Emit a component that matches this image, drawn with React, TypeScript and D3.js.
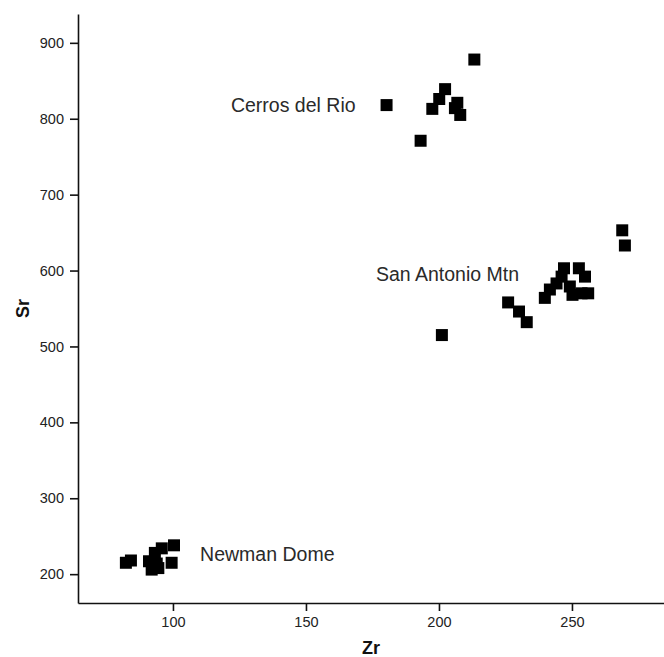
import * as d3 from "d3";
import { useEffect, useRef } from "react";

// Zr / Sr values
const cerrosZr = [180.3, 213.3, 193.1, 202.3, 200.1, 197.5, 206.9, 206.0, 208.0];
const cerrosSr = [818, 878, 771, 839, 826, 813, 821, 814, 805];

const sanAntonioZr = [268.9, 269.9, 201.1, 226.0, 230.1, 233.0, 239.8, 241.7, 244.2, 246.1, 247.0, 249.2, 250.2, 252.6, 254.9, 253.6, 256.1];
const sanAntonioSr = [653, 633, 515, 558, 546, 532, 564, 575, 583, 592, 603, 579, 568, 603, 592, 570, 570];

const newmanZr = [82.3, 84.2, 91.0, 92.0, 93.9, 93.2, 95.8, 100.4, 99.5, 94.5];
const newmanSr = [215, 218, 217, 206, 214, 228, 234, 238, 215, 208];

const groupNames = ["Cerros del Rio", "San Antonio Mtn", "Newman Dome"];
// label anchor in data units (Zr, Sr)
const labelZr = [121.8, 176.3, 110.2];
const labelSr = [809, 586, 217];

const xTicks = [100, 150, 200, 250];
const yTicks = [200, 300, 400, 500, 600, 700, 800, 900];

function App() {
  const ref = useRef<SVGSVGElement>(null);

  useEffect(() => {
    const width = 664;
    const height = 657;
    const margin = { top: 14, right: 0, bottom: 54, left: 78 };

    const svg = d3.select(ref.current);
    svg.selectAll("*").remove();
    svg.attr("width", width).attr("height", height);

    const x = d3.scaleLinear().domain([64.3, 284.6]).range([margin.left, width - margin.right]);
    const y = d3.scaleLinear().domain([162, 938]).range([height - margin.bottom, margin.top]);

    const font = "'Liberation Sans', Arial, sans-serif";

    const xAxis = svg
      .append("g")
      .attr("transform", `translate(0,${height - margin.bottom})`)
      .call(d3.axisBottom(x).tickValues(xTicks).tickSize(8).tickPadding(6).tickSizeOuter(0));
    const yAxis = svg
      .append("g")
      .attr("transform", `translate(${margin.left},0)`)
      .call(d3.axisLeft(y).tickValues(yTicks).tickSize(8).tickPadding(6).tickSizeOuter(0));

    [xAxis, yAxis].forEach((g) => {
      g.selectAll(".domain").attr("stroke", "#111").attr("stroke-width", 1.6);
      g.selectAll(".tick line").attr("stroke", "#111").attr("stroke-width", 1.6);
      g.selectAll(".tick text")
        .attr("fill", "#222")
        .style("font-family", font)
        .style("font-size", "14.5px");
    });

    // axis titles
    svg
      .append("text")
      .text("Zr")
      .attr("x", (margin.left + width - margin.right) / 2)
      .attr("y", 654)
      .attr("text-anchor", "middle")
      .style("font-family", font)
      .style("font-weight", "bold")
      .style("font-size", "18px")
      .attr("fill", "#111");
    svg
      .append("text")
      .text("Sr")
      .attr("transform", `translate(29,${(margin.top + height - margin.bottom) / 2}) rotate(-90)`)
      .attr("text-anchor", "middle")
      .style("font-family", font)
      .style("font-weight", "bold")
      .style("font-size", "18px")
      .attr("fill", "#111");

    const groups = [
      { zr: cerrosZr, sr: cerrosSr },
      { zr: sanAntonioZr, sr: sanAntonioSr },
      { zr: newmanZr, sr: newmanSr },
    ];

    const square = d3.symbol(d3.symbolSquare).size(144);
    groups.forEach((grp) => {
      svg
        .append("g")
        .selectAll("path")
        .data(grp.zr.map((z, i) => [z, grp.sr[i]]))
        .enter()
        .append("path")
        .attr("d", square)
        .attr("transform", (d) => `translate(${x(d[0])},${y(d[1])})`)
        .attr("fill", "#000");
    });

    svg
      .append("g")
      .selectAll("text")
      .data(groupNames)
      .enter()
      .append("text")
      .text((d) => d)
      .attr("x", (d, i) => x(labelZr[i]))
      .attr("y", (d, i) => y(labelSr[i]))
      .style("font-family", font)
      .style("font-size", "19.5px")
      .attr("fill", "#2a2a2a");
  }, []);

  return (
    <svg ref={ref} style={{ position: "absolute", left: 0, top: 0, background: "#fff" }}></svg>
  );
}

export default App;
